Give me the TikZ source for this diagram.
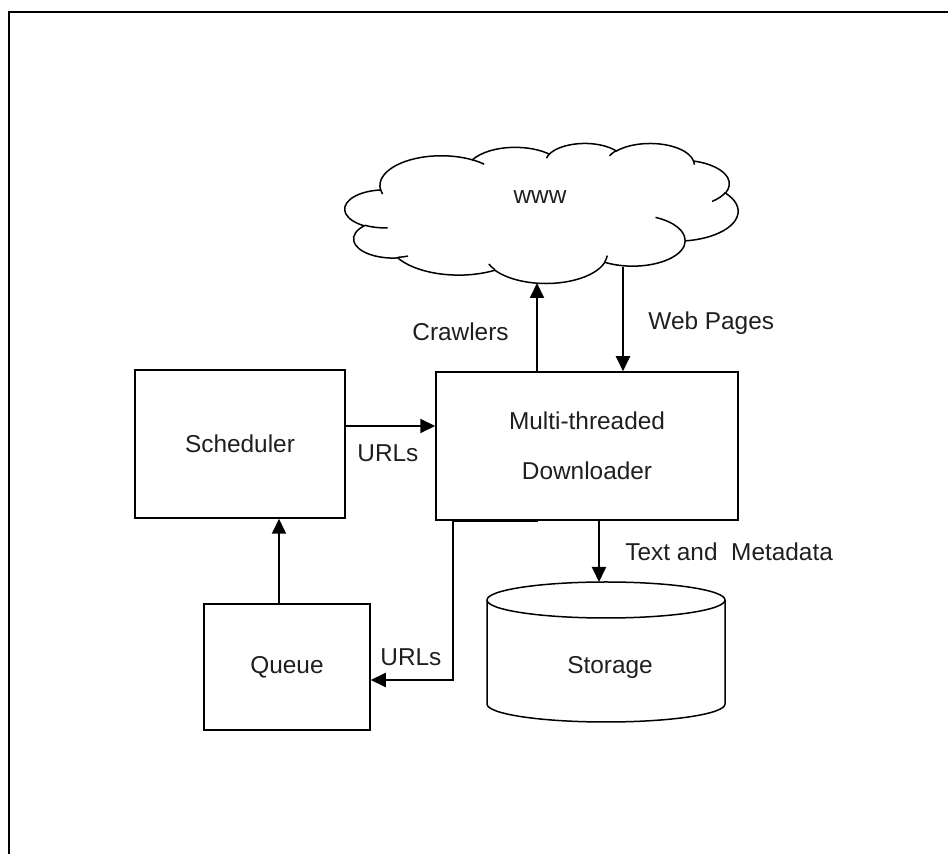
\documentclass[tikz,border=0pt]{standalone}
\usepackage{fontspec}
\setmainfont{Liberation Sans}
\usetikzlibrary{arrows.meta}

\begin{document}
\begin{tikzpicture}[x=0.5pt,y=0.5pt,
  every node/.style={text=black!88, font=\fontsize{12.2}{25}\selectfont},
  box/.style={draw, line width=0.75pt, inner sep=0pt},
  lbl/.style={inner sep=0pt},
  conn/.style={line width=0.95pt, line join=miter, -{Triangle[length=7.5pt,width=7pt]}},
  % one lobe of the cloud: x radius, y radius, start and sweep given as
  % directions from the lobe's centre (converted to ellipse parameters)
  carc/.style n args={4}{insert path={arc[x radius=#1, y radius=#2,
      start angle={atan2((#1)*sin(#3),(#2)*cos(#3))},
      delta angle={Mod(atan2((#1)*sin((#3)+(#4)),(#2)*cos((#3)+(#4)))-atan2((#1)*sin(#3),(#2)*cos(#3)),360)}]}},
]
\useasboundingbox (0,0) rectangle (948,-854);

% outer frame
\draw[line width=1.1pt] (9,-870) -- (9,-12) -- (970,-12);

% the WWW cloud
\begin{scope}[shift={(345,-143)}, xscale=393/432, yscale=-140/432, line width=0.75pt]
  \draw (39.00,143.70)
    [carc={67.53}{91.90}{-190.48748}{123.78053}]
    [carc={53.33}{72.67}{-144.10238}{89.94523}]
    [carc={43.65}{59.45}{-145.80792}{99.72302}]
    [carc={48.57}{65.95}{-130.98607}{117.24173}]
    [carc={53.33}{72.73}{-78.70888}{109.02692}]
    [carc={67.75}{92.20}{-46.26725}{130.269}]
    [carc={57.85}{78.67}{0.62502}{114.03333}]
    [carc={67.52}{92.15}{22.4516}{115.17255}]
    [carc={77.20}{105.43}{66.24263}{75.71102}]
    [carc={43.60}{59.18}{-274.94208}{146.73557}]
    [carc={43.45}{59.45}{-246.8285}{152.52262}]
    -- cycle;
  \draw (46.93,261.77) [carc={43.45}{59.45}{86.742}{26.4295}];
  \draw (69.28,348.99) [carc={43.60}{59.18}{73.61047}{11.44747}];
  \draw (164.78,390.90) [carc={67.52}{92.15}{137.62415}{14.0811}];
  \draw (288.27,347.51) [carc={67.52}{92.15}{6.45327}{15.99835}];
  \draw (341.29,229.54) [carc={57.85}{78.67}{-70.29235}{70.91737}];
  \draw (417.98,153.54) [carc={53.33}{72.73}{30.31803}{27.7515}];
  \draw (383.24,54.26) [carc={48.57}{65.95}{-13.74433}{14.86438}];
  \draw (290.78,39.52) [carc={48.57}{65.95}{-149.18145}{18.18388}];
  \draw (221.41,47.20) [carc={43.65}{59.45}{-163.49427}{17.69175}];
  \draw (140.00,51.92) [carc={67.53}{91.90}{-66.70695}{12.31935}];
  \draw (41.27,157.89) [carc={67.53}{91.90}{157.65435}{11.85817}];
\end{scope}
\node[lbl] (www) at (540,-197) {www};
\coordinate (cloudA) at (537,-283);
\coordinate (cloudB) at (623,-267);

% boxes
\node[box, minimum width=105pt, minimum height=74pt] (sched) at (240,-444) {Scheduler};
\node[box, minimum width=151pt, minimum height=74pt, align=center] (down) at (587,-446)
  {Multi-threaded\\Downloader};
\node[box, minimum width=83pt, minimum height=63pt] (queue) at (287,-667) {Queue};

% storage cylinder
\draw[line width=0.75pt] (487,-600) arc[start angle=180, end angle=0, x radius=119, y radius=18]
  -- (725,-704) arc[start angle=0, end angle=-180, x radius=119, y radius=18] -- cycle;
\draw[line width=0.75pt] (487,-600) arc[start angle=180, end angle=360, x radius=119, y radius=18];
\coordinate (storeTop) at (599,-582);
\node[lbl] (storage) at (610,-668) {Storage};

% connectors
\draw[conn] (sched.east |- 0,-426) -- (down.west |- 0,-426);
\draw[conn] (down.north -| cloudA) -- (cloudA);
\draw[conn] (cloudB) -- (down.north -| cloudB);
\draw[conn] (down.south -| storeTop) -- (storeTop);
\draw[conn] (queue.north -| 279,0) -- (sched.south -| 279,0);
\draw[conn] (down.south -| 538,0) -- (down.south -| 453,0) -- (453,-680) -- (queue.east |- 0,-680);

% connector labels
\node[lbl, anchor=west] (lurl1) at (357,-453) {URLs};
\node[lbl, anchor=west] (lcrawl) at (412,-332) {Crawlers};
\node[lbl, anchor=west] (lweb) at (648,-323) {Web Pages};
\node[lbl, anchor=west] (ltext) at (625,-552) {Text and\ \ Metadata};
\node[lbl, anchor=west] (lurl2) at (380,-657) {URLs};
\end{tikzpicture}
\end{document}
